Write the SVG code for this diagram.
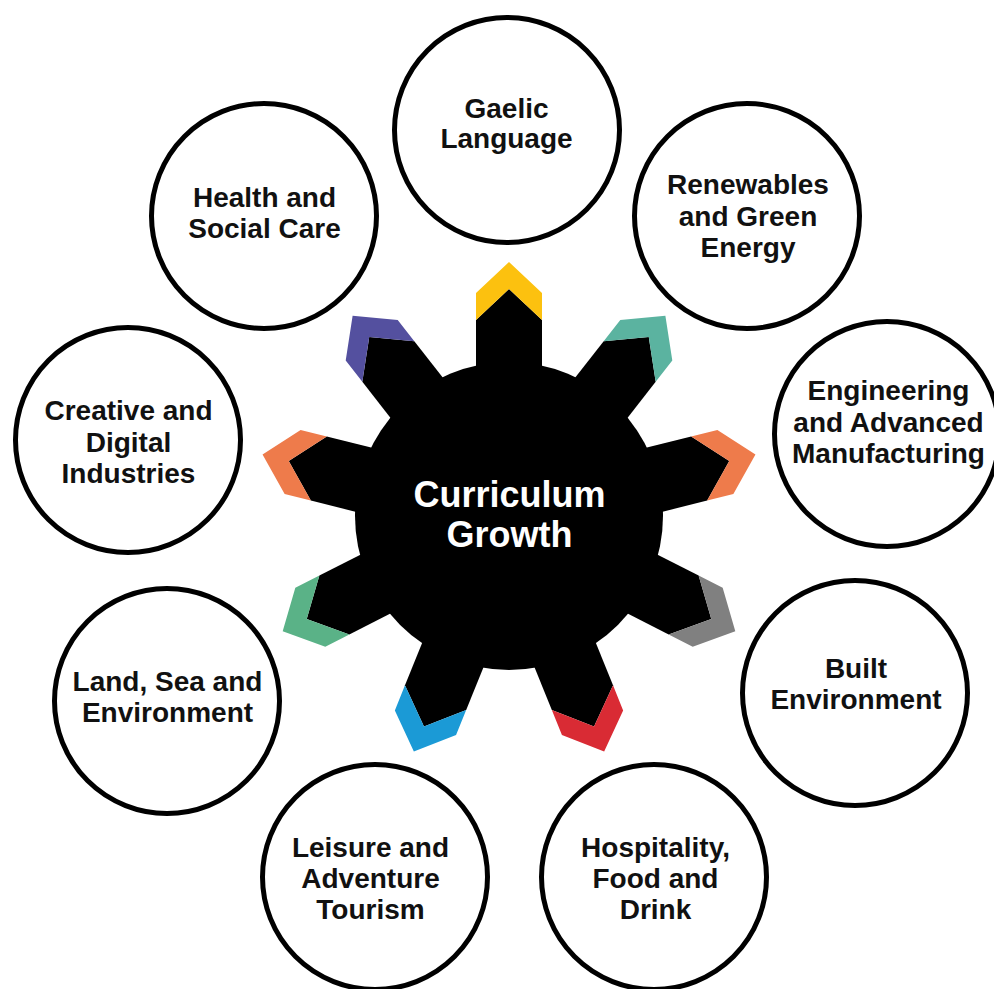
<svg xmlns="http://www.w3.org/2000/svg" width="994" height="989" viewBox="0 0 994 989">
<defs>
<style>
.node circle{fill:#fff;stroke:#000;stroke-width:5}
.lbl{font-family:"Liberation Sans",Arial,sans-serif;font-weight:bold;font-size:28px;fill:#111;text-anchor:middle}
.ctr{font-family:"Liberation Sans",Arial,sans-serif;font-weight:bold;font-size:36px;fill:#fff;text-anchor:middle}
</style>
<path id="tooth" d="M-33,-140 L-33,-196 L0,-227 L33,-196 L33,-140 Z" fill="#000"/>
<path id="cap" d="M-33,-196 L-33,-223 L0,-254 L33,-223 L33,-196 L0,-227 Z"/>
</defs>
<rect width="994" height="989" fill="#fff"/>
<g id="connectors"></g>
<g id="n-gaelic" class="node"><circle cx="507" cy="130" r="112.5"/><text class="lbl" x="506.5" y="118">Gaelic</text><text class="lbl" x="506.5" y="148">Language</text></g>
<g id="n-health" class="node"><circle cx="264" cy="216" r="112.5"/><text class="lbl" x="264.5" y="207">Health and</text><text class="lbl" x="264.5" y="238">Social Care</text></g>
<g id="n-renew" class="node"><circle cx="747" cy="216" r="112.5"/><text class="lbl" x="748" y="194">Renewables</text><text class="lbl" x="748" y="226">and Green</text><text class="lbl" x="748" y="257">Energy</text></g>
<g id="n-eng" class="node"><circle cx="887" cy="434" r="112.5"/><text class="lbl" x="888.5" y="400">Engineering</text><text class="lbl" x="888.5" y="432">and Advanced</text><text class="lbl" x="888.5" y="463">Manufacturing</text></g>
<g id="n-creative" class="node"><circle cx="128" cy="440" r="112.5"/><text class="lbl" x="128.5" y="420">Creative and</text><text class="lbl" x="128.5" y="452">Digital</text><text class="lbl" x="128.5" y="483">Industries</text></g>
<g id="n-land" class="node"><circle cx="167" cy="701" r="112.5"/><text class="lbl" x="167.5" y="691">Land, Sea and</text><text class="lbl" x="167.5" y="722">Environment</text></g>
<g id="n-built" class="node"><circle cx="855" cy="693" r="112.5"/><text class="lbl" x="856" y="678">Built</text><text class="lbl" x="856" y="709">Environment</text></g>
<g id="n-leisure" class="node"><circle cx="375" cy="877" r="112.5"/><text class="lbl" x="370.5" y="857">Leisure and</text><text class="lbl" x="370.5" y="888">Adventure</text><text class="lbl" x="370.5" y="919">Tourism</text></g>
<g id="n-hosp" class="node"><circle cx="654" cy="877" r="112.5"/><text class="lbl" x="655.5" y="857">Hospitality,</text><text class="lbl" x="655.5" y="888">Food and</text><text class="lbl" x="655.5" y="919">Drink</text></g>
<g id="n-gear">
<g transform="translate(509,516)">
<circle r="154" fill="#000"/>
<g transform="rotate(0)"><use href="#tooth"/><use href="#cap" fill="#FCC10F"/></g>
<g transform="rotate(38)"><use href="#tooth"/><use href="#cap" fill="#5BB3A0"/></g>
<g transform="rotate(76)"><use href="#tooth"/><use href="#cap" fill="#EE7B4B"/></g>
<g transform="rotate(117)"><use href="#tooth"/><use href="#cap" fill="#808080"/></g>
<g transform="rotate(158)"><use href="#tooth"/><use href="#cap" fill="#D92B34"/></g>
<g transform="rotate(202)"><use href="#tooth"/><use href="#cap" fill="#1B9AD6"/></g>
<g transform="rotate(243)"><use href="#tooth"/><use href="#cap" fill="#5AB287"/></g>
<g transform="rotate(284)"><use href="#tooth"/><use href="#cap" fill="#EE7B4B"/></g>
<g transform="rotate(322)"><use href="#tooth"/><use href="#cap" fill="#54509F"/></g>
</g>
<text class="ctr" x="509.5" y="507">Curriculum</text>
<text class="ctr" x="509.5" y="547">Growth</text>
</g>
</svg>
